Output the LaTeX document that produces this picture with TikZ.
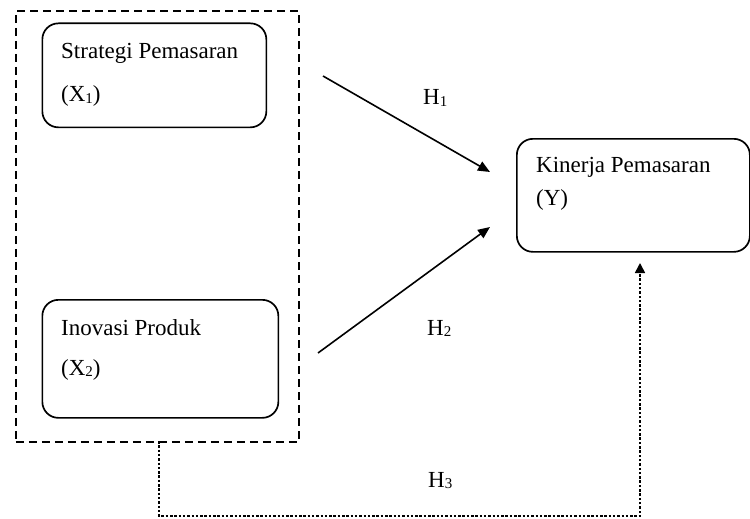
\documentclass[tikz,border=0pt]{standalone}
\usepackage{fontspec}
\setmainfont{Liberation Serif}
\usetikzlibrary{arrows.meta}
\newcommand\subnum[1]{\raisebox{-1.5pt}{\fontsize{15}{15}\selectfont #1}}
\begin{document}
\begin{tikzpicture}[x=1pt,y=-1pt,
  box/.style={draw, line width=1.7pt, rounded corners=16pt, anchor=north west, inner sep=0pt},
  lbl/.style={anchor=base west, inner sep=0pt, font=\fontsize{23}{27}\selectfont},
  conn/.style={line width=1.6pt, -{Triangle[length=12pt,width=10pt]}},
  dotconn/.style={line width=1.6pt, dash pattern=on 2.5pt off 1.8pt, -{Triangle[length=10pt,width=10pt]}}]
\useasboundingbox (0,0) rectangle (750,519);
\node[draw, line width=1.8pt, dash pattern=on 8pt off 5pt, anchor=north west, inner sep=0pt,
      minimum width=283pt, minimum height=431pt] (grp) at (15,10) {};
\node[box, minimum width=224pt, minimum height=104pt] (bx1) at (41.5,22.5) {};
\node[box, minimum width=236pt, minimum height=118pt] (bx2) at (41.5,299) {};
\node[box, minimum width=233pt, minimum height=113pt] (by) at (516,138) {};
\node[lbl] (t1) at (61,59) {Strategi Pemasaran};
\node[lbl] (t1b) at (61,102) {(X\subnum{1})};
\node[lbl] (t2) at (61,335) {Inovasi Produk};
\node[lbl] (t2b) at (61,375) {(X\subnum{2})};
\node[lbl] (t3) at (536,172) {Kinerja Pemasaran};
\node[lbl] (t3b) at (536,205) {(Y)};
\node[lbl] (lh1) at (423,105) {H\subnum{1}};
\node[lbl] (lh2) at (427,335) {H\subnum{2}};
\node[lbl] (lh3) at (428,487) {H\subnum{3}};
\coordinate (h1s) at (323,76);
\coordinate (h1e) at (490,172);
\coordinate (h2s) at (318,353);
\coordinate (h2e) at (490,227);
\coordinate (h3s) at (159,441);
\coordinate (h3c) at (640,516);
\coordinate (h3e) at (640,263);
\draw[conn] (h1s) -- (h1e);
\draw[conn] (h2s) -- (h2e);
\draw[dotconn] (h3s) |- (h3c) -- (h3e);
\end{tikzpicture}
\end{document}
